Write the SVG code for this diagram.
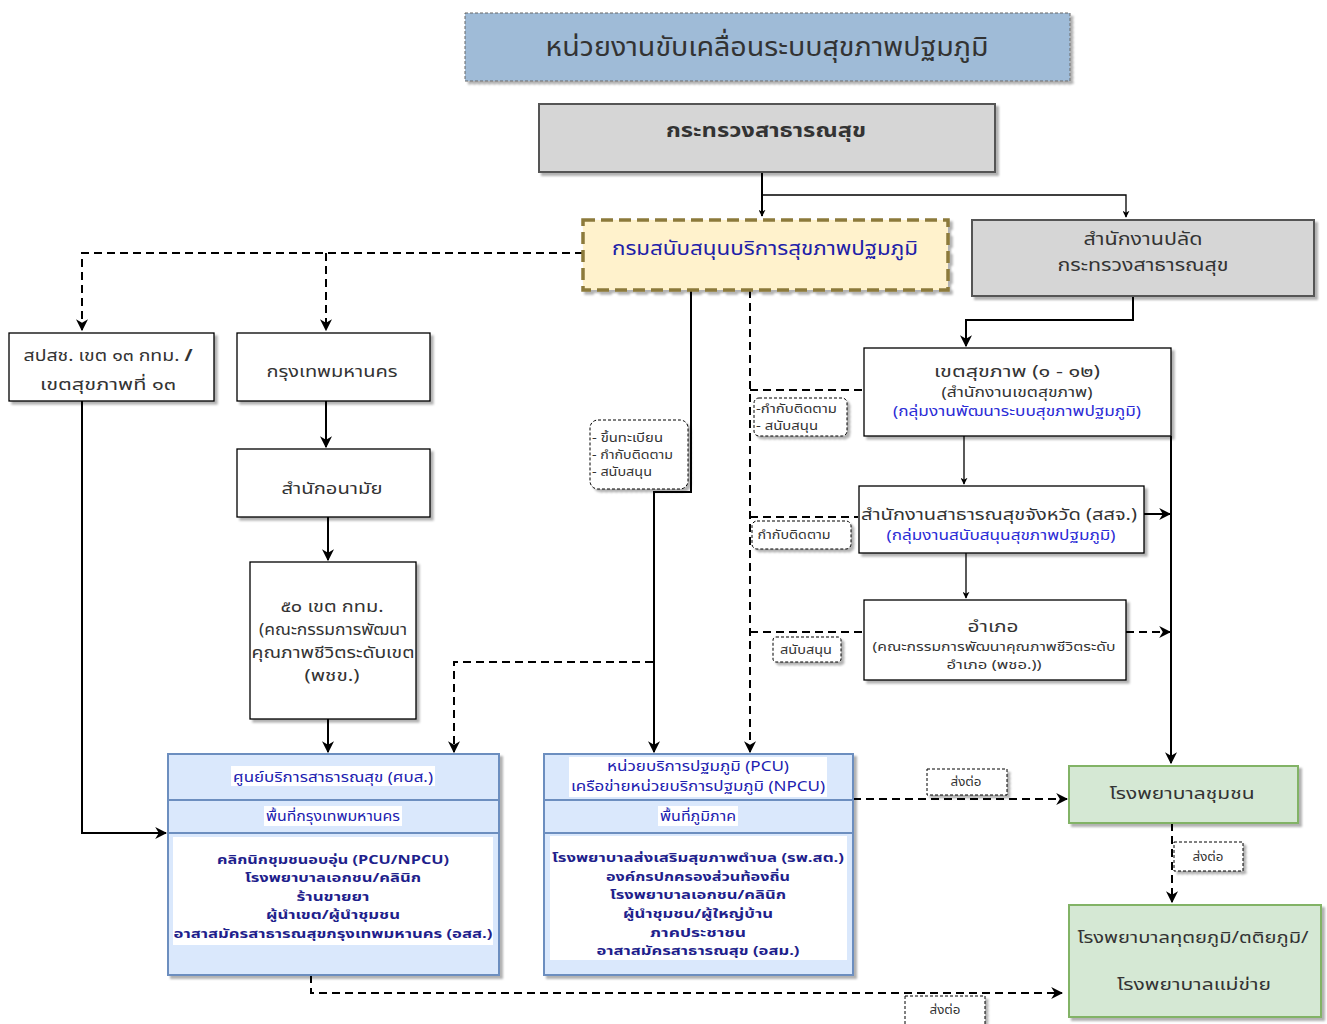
<svg xmlns="http://www.w3.org/2000/svg" width="1327" height="1024" viewBox="0 0 1327 1024">
<defs>
<filter id="sh" x="-5%" y="-5%" width="115%" height="125%"><feDropShadow dx="3" dy="3" stdDeviation="1.2" flood-color="#000" flood-opacity="0.3"/></filter>
<marker id="ar" viewBox="0 0 10 10" refX="9" refY="5" markerWidth="7" markerHeight="7" orient="auto" markerUnits="userSpaceOnUse"><path d="M0,0 L10,5 L0,10 L3,5 Z" fill="#000"/></marker>
<marker id="arb" viewBox="0 0 10 10" refX="9" refY="5" markerWidth="12" markerHeight="12" orient="auto" markerUnits="userSpaceOnUse"><path d="M0,0 L10,5 L0,10 L3,5 Z" fill="#000"/></marker>
</defs>
<style>
text{font-family:Tahoma,"Noto Sans Thai","Noto Sans","DejaVu Sans",sans-serif;text-anchor:middle;fill:#333}
.box{fill:#fff;stroke:#000;stroke-width:1.3;filter:url(#sh)}
.gray{fill:#d6d6d6;stroke:#555;stroke-width:2;filter:url(#sh)}
.blue{fill:#dae8fc;stroke:#6c8ebf;stroke-width:2;filter:url(#sh)}
.green{fill:#d5e8d4;stroke:#82b366;stroke-width:2;filter:url(#sh)}
.lbl{fill:#fff;stroke:#000;stroke-width:1;stroke-dasharray:3 2;filter:url(#sh)}
.ln{fill:none;stroke:#000;stroke-width:2}
.dl{fill:none;stroke:#000;stroke-width:2;stroke-dasharray:8 5}
.t17{font-size:16px}
.t15{font-size:13.5px}
.t12{font-size:12px}
.s{text-anchor:start}
.bl{fill:#2b2bd6}
.hd{fill:#2020b0;font-size:13.5px}
.nv{fill:#1f1f8c;font-weight:bold;font-size:13px}
</style>
<g id="connectors">
<path class="ln" d="M762,172 V216" marker-end="url(#ar)"/>
<path class="ln" d="M762,195 H1126 V217" marker-end="url(#ar)" style="stroke-width:1.3"/>
<path class="dl" d="M583,253 H82 V330" marker-end="url(#arb)"/>
<path class="dl" d="M326,253 V330" marker-end="url(#arb)"/>
<path class="ln" d="M326,401 V447" marker-end="url(#arb)"/>
<path class="ln" d="M328,517 V560" marker-end="url(#arb)"/>
<path class="ln" d="M328,719 V752" marker-end="url(#arb)"/>
<path class="ln" d="M82,401 V833 H166" marker-end="url(#arb)"/>
<path class="ln" d="M691,290 V492 H654 V752" marker-end="url(#arb)"/>
<path class="dl" d="M653,662 H454 V752" marker-end="url(#arb)"/>
<path class="dl" d="M750,290 V752" marker-end="url(#arb)"/>
<path class="dl" d="M750,390 H863"/>
<path class="dl" d="M750,517 H858"/>
<path class="dl" d="M750,632 H863"/>
<path class="ln" d="M1133,296 V320 H966 V346" marker-end="url(#arb)"/>
<path class="ln" d="M964,436 V484" marker-end="url(#ar)" style="stroke-width:1.3"/>
<path class="ln" d="M966,553 V598" marker-end="url(#ar)" style="stroke-width:1.3"/>
<path class="ln" d="M1171,436 V763" marker-end="url(#arb)"/>
<path class="ln" d="M1144,514 H1170" marker-end="url(#arb)"/>
<path class="dl" d="M1126,632 H1170" marker-end="url(#arb)"/>
<path class="dl" d="M853,799 H1067" marker-end="url(#arb)"/>
<path class="dl" d="M1172,823 V902" marker-end="url(#arb)"/>
<path class="dl" d="M311,975 V993 H1062" marker-end="url(#arb)"/>
</g>
<g id="title">
<rect x="465" y="13" width="605" height="68" fill="#9fbbd7" stroke="#666" stroke-width="1" stroke-dasharray="3 2" filter="url(#sh)"/>
<text x="767" y="56" style="font-size:27px" textLength="443" lengthAdjust="spacingAndGlyphs">หน่วยงานขับเคลื่อนระบบสุขภาพปฐมภูมิ</text>
</g>
<g id="moph">
<rect class="gray" x="539" y="104" width="456" height="68"/>
<text x="766" y="137" style="font-size:19px;font-weight:bold" textLength="200" lengthAdjust="spacingAndGlyphs">กระทรวงสาธารณสุข</text>
</g>
<g id="dept">
<rect x="583" y="220" width="365" height="70" fill="#fff2cc" stroke="#8c7a3a" stroke-width="3.5" stroke-dasharray="12 6" filter="url(#sh)"/>
<text x="765" y="255" style="font-size:19px;fill:#2020a8" textLength="306" lengthAdjust="spacingAndGlyphs">กรมสนับสนุนบริการสุขภาพปฐมภูมิ</text>
</g>
<g id="ops">
<rect class="gray" x="972" y="220" width="342" height="76"/>
<text x="1143" y="245" style="font-size:18px" textLength="119" lengthAdjust="spacingAndGlyphs">สำนักงานปลัด</text>
<text x="1143" y="271" style="font-size:18px" textLength="171" lengthAdjust="spacingAndGlyphs">กระทรวงสาธารณสุข</text>
</g>
<g id="nhso">
<rect class="box" x="9" y="333" width="205" height="68"/>
<text x="108" y="361" class="t17" textLength="169" lengthAdjust="spacingAndGlyphs">สปสช. เขต ๑๓ กทม. <tspan style="font-weight:bold">/</tspan></text>
<text x="108" y="390" class="t17" textLength="136" lengthAdjust="spacingAndGlyphs">เขตสุขภาพที่ ๑๓</text>
</g>
<g id="bkk">
<rect class="box" x="237" y="333" width="193" height="68"/>
<text x="332" y="377" class="t17" textLength="131" lengthAdjust="spacingAndGlyphs">กรุงเทพมหานคร</text>
</g>
<g id="health">
<rect class="box" x="237" y="449" width="193" height="68"/>
<text x="332" y="494" class="t17" textLength="101" lengthAdjust="spacingAndGlyphs">สำนักอนามัย</text>
</g>
<g id="districts">
<rect class="box" x="250" y="562" width="166" height="157"/>
<text x="332" y="612" class="t17" textLength="103" lengthAdjust="spacingAndGlyphs">๕๐ เขต กทม.</text>
<text x="333" y="635" class="t17" textLength="148" lengthAdjust="spacingAndGlyphs">(คณะกรรมการพัฒนา</text>
<text x="333" y="658" class="t17" textLength="163" lengthAdjust="spacingAndGlyphs">คุณภาพชีวิตระดับเขต</text>
<text x="332" y="681" class="t17" textLength="55" lengthAdjust="spacingAndGlyphs">(พชข.)</text>
</g>
<g id="region">
<rect class="box" x="864" y="348" width="307" height="88"/>
<text x="1017" y="377" class="t17" textLength="166" lengthAdjust="spacingAndGlyphs">เขตสุขภาพ (๑ - ๑๒)</text>
<text x="1017" y="397" class="t15" textLength="151" lengthAdjust="spacingAndGlyphs">(สำนักงานเขตสุขภาพ)</text>
<text x="1017" y="416" class="t15 bl" textLength="248" lengthAdjust="spacingAndGlyphs">(กลุ่มงานพัฒนาระบบสุขภาพปฐมภูมิ)</text>
</g>
<g id="province">
<rect class="box" x="859" y="486" width="285" height="67"/>
<text x="999" y="520" class="t17" textLength="276" lengthAdjust="spacingAndGlyphs">สำนักงานสาธารณสุขจังหวัด (สสจ.)</text>
<text x="1001" y="540" class="t15 bl" textLength="229" lengthAdjust="spacingAndGlyphs">(กลุ่มงานสนับสนุนสุขภาพปฐมภูมิ)</text>
</g>
<g id="amphoe">
<rect class="box" x="864" y="600" width="262" height="80"/>
<text x="993" y="632" class="t17" textLength="51" lengthAdjust="spacingAndGlyphs">อำเภอ</text>
<text x="994" y="651" style="font-size:13px" textLength="243" lengthAdjust="spacingAndGlyphs">(คณะกรรมการพัฒนาคุณภาพชีวิตระดับ</text>
<text x="994" y="669" style="font-size:13px" textLength="95" lengthAdjust="spacingAndGlyphs">อำเภอ (พชอ.))</text>
</g>
<g id="lbl1">
<rect class="lbl" x="590" y="420" width="98" height="69" rx="8"/>
<text x="592" y="442" class="t12 s" textLength="71" lengthAdjust="spacingAndGlyphs">- ขึ้นทะเบียน</text>
<text x="592" y="459" class="t12 s" textLength="81" lengthAdjust="spacingAndGlyphs">- กำกับติดตาม</text>
<text x="592" y="476" class="t12 s" textLength="60" lengthAdjust="spacingAndGlyphs">- สนับสนุน</text>
</g>
<g id="lbl2">
<rect class="lbl" x="754" y="398" width="93" height="38" rx="5"/>
<text x="756" y="413" class="t12 s" textLength="81" lengthAdjust="spacingAndGlyphs">-กำกับติดตาม</text>
<text x="756" y="430" class="t12 s" textLength="62" lengthAdjust="spacingAndGlyphs">- สนับสนุน</text>
</g>
<g id="lbl3">
<rect class="lbl" x="752" y="521" width="99" height="28" rx="5"/>
<text x="794" y="539" class="t12" textLength="73" lengthAdjust="spacingAndGlyphs">กำกับติดตาม</text>
</g>
<g id="lbl4">
<rect class="lbl" x="773" y="637" width="68" height="25" rx="3"/>
<text x="806" y="654" class="t12" textLength="52" lengthAdjust="spacingAndGlyphs">สนับสนุน</text>
</g>
<g id="bphc">
<rect class="blue" x="168" y="754" width="331" height="221"/>
<line x1="168" y1="800" x2="499" y2="800" stroke="#6c8ebf" stroke-width="2"/>
<line x1="168" y1="833" x2="499" y2="833" stroke="#6c8ebf" stroke-width="2"/>
<rect x="231" y="766" width="204" height="20" fill="#fff"/>
<text x="333" y="782" class="hd" textLength="200" lengthAdjust="spacingAndGlyphs">ศูนย์บริการสาธารณสุข (ศบส.)</text>
<rect x="264" y="806" width="138" height="20" fill="#fff"/>
<text x="333" y="821" class="hd" textLength="134" lengthAdjust="spacingAndGlyphs">พื้นที่กรุงเทพมหานคร</text>
<rect x="173" y="837" width="320" height="108" fill="#fff"/>
<text x="333" y="864" class="nv" textLength="232" lengthAdjust="spacingAndGlyphs">คลิกนิกชุมชนอบอุ่น (PCU/NPCU)</text>
<text x="333" y="882" class="nv" textLength="176" lengthAdjust="spacingAndGlyphs">โรงพยาบาลเอกชน/คลินิก</text>
<text x="333" y="901" class="nv" textLength="73" lengthAdjust="spacingAndGlyphs">ร้านขายยา</text>
<text x="333" y="919" class="nv" textLength="134" lengthAdjust="spacingAndGlyphs">ผู้นำเขต/ผู้นำชุมชน</text>
<text x="333" y="938" class="nv" textLength="319" lengthAdjust="spacingAndGlyphs">อาสาสมัครสาธารณสุขกรุงเทพมหานคร (อสส.)</text>
</g>
<g id="pcu">
<rect class="blue" x="544" y="754" width="309" height="221"/>
<line x1="544" y1="800" x2="853" y2="800" stroke="#6c8ebf" stroke-width="2"/>
<line x1="544" y1="833" x2="853" y2="833" stroke="#6c8ebf" stroke-width="2"/>
<rect x="569" y="757" width="258" height="40" fill="#fff"/>
<text x="698" y="771" class="hd" textLength="182" lengthAdjust="spacingAndGlyphs">หน่วยบริการปฐมภูมิ (PCU)</text>
<text x="698" y="791" class="hd" textLength="254" lengthAdjust="spacingAndGlyphs">เครือข่ายหน่วยบริการปฐมภูมิ (NPCU)</text>
<rect x="658" y="806" width="80" height="20" fill="#fff"/>
<text x="698" y="821" class="hd" textLength="76" lengthAdjust="spacingAndGlyphs">พื้นที่ภูมิภาค</text>
<rect x="550" y="836" width="297" height="124" fill="#fff"/>
<text x="698" y="862" class="nv" textLength="292" lengthAdjust="spacingAndGlyphs">โรงพยาบาลส่งเสริมสุขภาพตำบล (รพ.สต.)</text>
<text x="698" y="881" class="nv" textLength="184" lengthAdjust="spacingAndGlyphs">องค์กรปกครองส่วนท้องถิ่น</text>
<text x="698" y="899" class="nv" textLength="176" lengthAdjust="spacingAndGlyphs">โรงพยาบาลเอกชน/คลินิก</text>
<text x="698" y="918" class="nv" textLength="150" lengthAdjust="spacingAndGlyphs">ผู้นำชุมชน/ผู้ใหญ่บ้าน</text>
<text x="698" y="937" class="nv" textLength="96" lengthAdjust="spacingAndGlyphs">ภาคประชาชน</text>
<text x="698" y="955" class="nv" textLength="203" lengthAdjust="spacingAndGlyphs">อาสาสมัครสาธารณสุข (อสม.)</text>
</g>
<g id="lbl5">
<rect class="lbl" x="927" y="769" width="80" height="26"/>
<text x="966" y="786" class="t12" textLength="31" lengthAdjust="spacingAndGlyphs">ส่งต่อ</text>
</g>
<g id="lbl6">
<rect class="lbl" x="1174" y="842" width="69" height="29"/>
<text x="1208" y="861" class="t12" textLength="31" lengthAdjust="spacingAndGlyphs">ส่งต่อ</text>
</g>
<g id="lbl7">
<rect class="lbl" x="905" y="996" width="80" height="34"/>
<text x="945" y="1014" class="t12" textLength="31" lengthAdjust="spacingAndGlyphs">ส่งต่อ</text>
</g>
<g id="crh">
<rect class="green" x="1069" y="766" width="229" height="57"/>
<text x="1182" y="799" class="t17" textLength="145" lengthAdjust="spacingAndGlyphs">โรงพยาบาลชุมชน</text>
</g>
<g id="tertiary">
<rect class="green" x="1069" y="905" width="252" height="112"/>
<text x="1193" y="943" class="t17" textLength="231" lengthAdjust="spacingAndGlyphs">โรงพยาบาลทุตยภูมิ/ตติยภูมิ/</text>
<text x="1194" y="990" class="t17" textLength="154" lengthAdjust="spacingAndGlyphs">โรงพยาบาลแม่ข่าย</text>
</g>
</svg>
